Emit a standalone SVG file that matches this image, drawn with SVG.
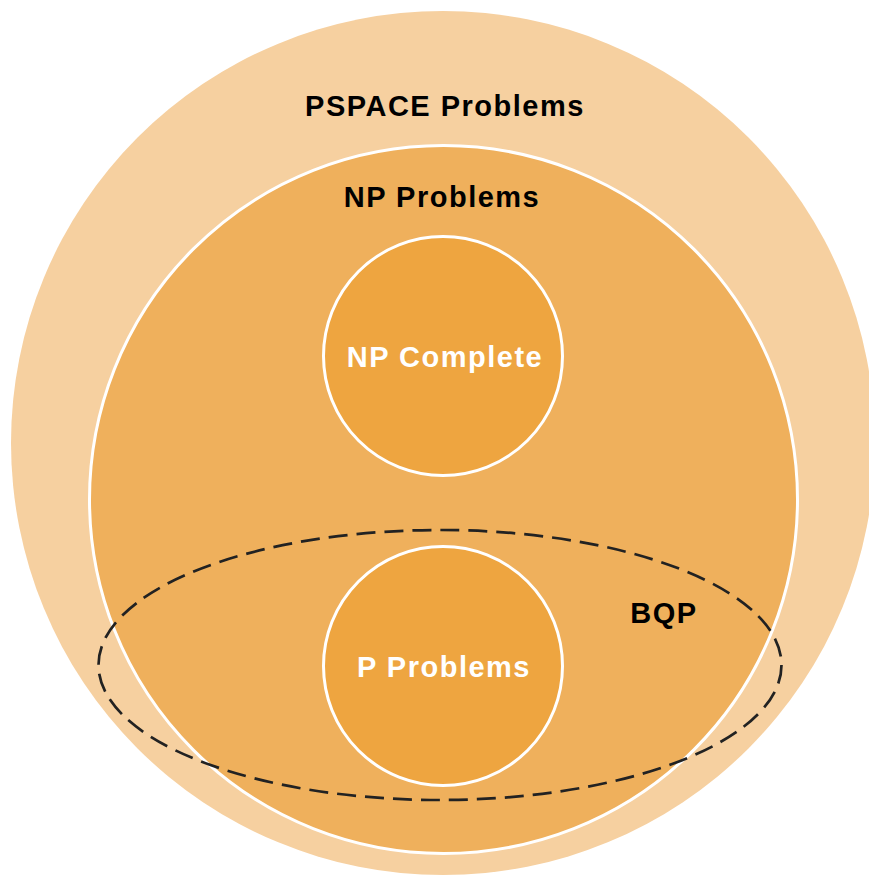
<svg xmlns="http://www.w3.org/2000/svg" width="869" height="875" viewBox="0 0 869 875">
  <style>
    .lbl { font-family: "Liberation Sans", Arial, sans-serif; font-weight: bold; font-size: 29px; letter-spacing: 1.5px; text-anchor: middle; }
    .dark { fill: #000000; }
    .light { fill: #ffffff; }
    .ring { stroke: #ffffff; stroke-width: 3; }
  </style>
  <rect width="869" height="875" fill="#ffffff"/>
  <g id="pspace">
    <circle cx="443" cy="443" r="432" fill="#F6D0A0"/>
    <text class="lbl dark" x="445" y="116">PSPACE Problems</text>
  </g>
  <g id="np">
    <circle class="ring" cx="443.5" cy="499.5" r="354" fill="#EFB05C"/>
    <text class="lbl dark" x="442" y="207">NP Problems</text>
  </g>
  <g id="np-complete">
    <circle class="ring" cx="443" cy="356" r="119.5" fill="#EEA540"/>
    <text class="lbl light" x="445" y="367">NP Complete</text>
  </g>
  <g id="p">
    <circle class="ring" cx="443" cy="666" r="119.5" fill="#EEA540"/>
    <text class="lbl light" x="444" y="677">P Problems</text>
  </g>
  <g id="bqp">
    <ellipse cx="440" cy="665" rx="341.5" ry="135" fill="none" stroke="#222222" stroke-width="2.7" stroke-dasharray="19 9"/>
    <text class="lbl dark" x="664" y="623">BQP</text>
  </g>
  <g id="connectors"></g>
</svg>
